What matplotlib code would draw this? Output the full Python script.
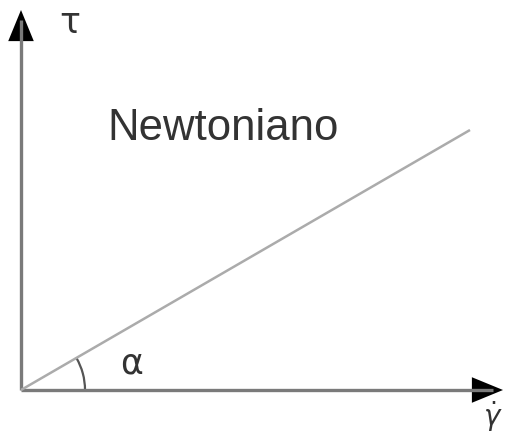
import numpy as np
import matplotlib
matplotlib.use('Agg')
import matplotlib.pyplot as plt
from matplotlib.patches import Arc, FancyArrowPatch

# Newtonian fluid: shear stress grows linearly with shear rate
shear_rate = [0, 449]
shear_stress = [0, 260]
curve_label = 'Newtoniano'

AXIS_COLOR = '#7a7a7a'
LINE_COLOR = '#ababab'
TEXT_COLOR = '#333333'

fig = plt.figure(figsize=(5.08, 4.37), dpi=100, facecolor='white')
ax = fig.add_axes([0, 0, 1, 1])
ax.set_xlim(-21, 487)
ax.set_ylim(-47, 390)
ax.axis('off')

# gray axis lines, black arrowheads on top
y_tip = (0, 380)
x_tip = (482, 0)
ax.plot([0, 0], [0, y_tip[1] - 10], color=AXIS_COLOR, lw=2.4, solid_capstyle='butt')
ax.plot([0, x_tip[0] - 10], [0, 0], color=AXIS_COLOR, lw=2.4, solid_capstyle='butt')
head = '-|>,head_length=0.56,head_width=0.23'
ax.add_patch(FancyArrowPatch((0, y_tip[1] - 30), y_tip, arrowstyle=head, mutation_scale=40,
                             color='black', lw=0, shrinkA=0, shrinkB=0))
ax.add_patch(FancyArrowPatch((x_tip[0] - 30, 0), x_tip, arrowstyle=head, mutation_scale=40,
                             color='black', lw=0, shrinkA=0, shrinkB=0))

ax.plot(shear_rate, shear_stress, color=LINE_COLOR, lw=1.8, solid_capstyle='butt')

slope_deg = np.degrees(np.arctan2(shear_stress[1], shear_rate[1]))
ax.add_patch(Arc((0, 0), 128, 128, theta1=0, theta2=slope_deg, color='#555555', lw=1.6))

ax.text(86, 261, curve_label, fontsize=31.5, family='Liberation Sans',
        color=TEXT_COLOR, ha='left', va='center')
ax.text(111, 26, 'α', fontsize=25, family='DejaVu Sans', color=TEXT_COLOR,
        ha='center', va='center')
ax.text(49, 367, 'τ', fontsize=25, family='DejaVu Sans', color=TEXT_COLOR,
        ha='center', va='center')
ax.text(482, -44, r'$\dot{\gamma}$', fontsize=20, color=TEXT_COLOR, ha='right', va='bottom')

fig.savefig('out.png', dpi=100, facecolor='white')
